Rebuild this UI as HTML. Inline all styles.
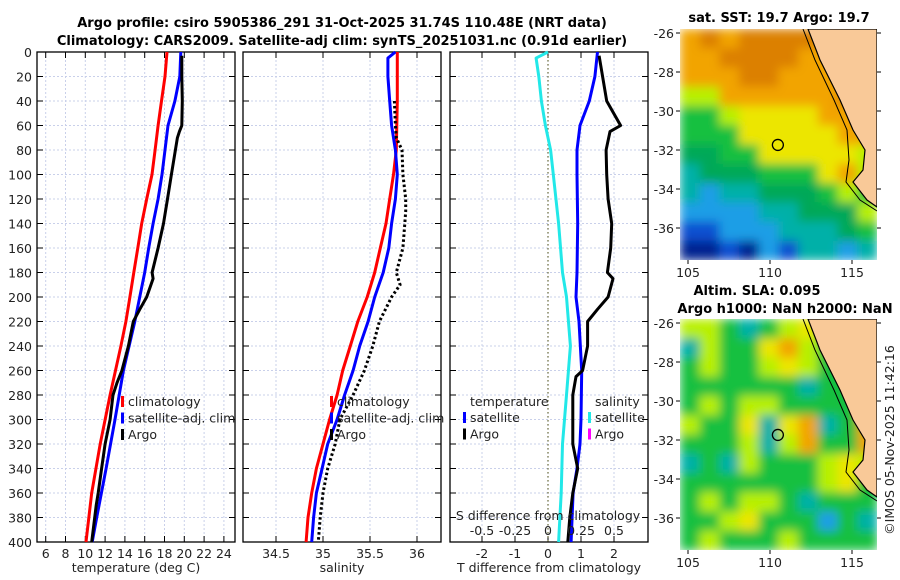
<!DOCTYPE html>
<html><head><meta charset="utf-8">
<style>
body{margin:0;background:#fff;}
svg{display:block;font-family:"DejaVu Sans","Liberation Sans",sans-serif;}
.t{font-size:12.5px;fill:#222;}
.b{font-weight:bold;font-size:13px;fill:#000;}
</style></head><body>
<svg id="s" width="900" height="580" viewBox="0 0 900 580" xmlns="http://www.w3.org/2000/svg">
<defs>
<filter id="blur" x="0" y="0" width="1" height="1"><feGaussianBlur stdDeviation="5" edgeMode="duplicate"/></filter>
<clipPath id="c1"><rect x="680" y="29" width="197" height="231"/></clipPath>
<clipPath id="c2"><rect x="680" y="319" width="197" height="231"/></clipPath>
</defs>
<text class="b" x="342" y="27" text-anchor="middle">Argo profile: csiro 5905386_291 31-Oct-2025 31.74S 110.48E (NRT data)</text>
<text class="b" x="342" y="45" text-anchor="middle">Climatology: CARS2009. Satellite-adj clim: synTS_20251031.nc (0.91d earlier)</text>
<text class="b" x="779" y="22" text-anchor="middle">sat. SST: 19.7 Argo: 19.7</text>
<text class="b" x="757" y="295" text-anchor="middle">Altim. SLA: 0.095</text>
<text class="b" x="785" y="313" text-anchor="middle">Argo h1000: NaN h2000: NaN</text>
<text class="t" x="0" y="0" transform="translate(894,440) rotate(-90)" text-anchor="middle">©IMOS 05-Nov-2025 11:42:16</text>
<g id="g"></g>
</svg>
<script>
// ---- data ----
const depthTicks=[0,20,40,60,80,100,120,140,160,180,200,220,240,260,280,300,320,340,360,380,400];
const tempTicks=[6,8,10,12,14,16,18,20,22,24];
const salTicks=[34.5,35,35.5,36];
const salTickLabels=["34.5","35","35.5","36"];
const dTTicks=[-2,-1,0,1,2];
const dSTicks=[-0.5,-0.25,0,0.25,0.5];
const dSTickLabels=["-0.5","-0.25","0","0.25","0.5"];

const climTdep=[0,20,40,60,80,100,120,140,160,180,200,220,240,280,320,360,400];
const climT=[18.25,18.05,17.7,17.35,17.05,16.74,16.2,15.7,15.3,14.9,14.5,14.1,13.6,12.5,11.5,10.65,10.07];
const satTdep=[0,20,40,60,80,100,120,140,160,180,220,260,300,340,380,400];
const satT=[19.65,19.55,19.05,18.35,18.05,17.75,17.35,16.85,16.4,16.0,15.0,13.85,13.0,12.1,11.15,10.7];
const argoTdep=[3,20,40,60,65,70,80,100,120,140,160,180,185,200,210,220,240,260,270,280,300,320,340,360,370,400];
const argoT=[19.75,19.75,19.8,19.75,19.5,19.3,19.1,18.7,18.3,17.9,17.35,16.75,16.85,16.2,15.5,14.85,14.35,13.7,13.2,12.8,12.5,12.0,11.65,11.3,11.1,10.65];

const climSdep=[0,40,80,100,120,140,160,180,200,220,240,260,280,300,320,340,360,380,400];
const climS=[35.79,35.79,35.78,35.75,35.71,35.67,35.61,35.55,35.47,35.37,35.29,35.21,35.15,35.07,35.0,34.93,34.88,34.84,34.82];
const satSdep=[0,5,20,40,60,80,100,120,140,160,180,200,220,240,260,280,300,320,340,360,380,400];
const satS=[35.77,35.69,35.69,35.71,35.73,35.77,35.79,35.77,35.73,35.7,35.64,35.55,35.48,35.39,35.32,35.23,35.15,35.05,34.99,34.93,34.9,34.88];
const argoSdep=[40,60,70,80,100,120,130,140,160,180,190,200,220,240,260,280,300,320,340,360,380,400];
const argoS=[35.76,35.77,35.78,35.84,35.85,35.88,35.88,35.87,35.85,35.78,35.82,35.73,35.6,35.53,35.44,35.32,35.18,35.13,35.05,35.0,34.97,34.95];

const dSatTdep=[0,20,40,60,80,100,140,180,200,220,260,300,320,340,360,400];
const dSatT=[1.5,1.42,1.25,0.97,0.88,0.88,0.9,0.88,0.85,0.94,1.02,1.0,0.97,0.88,0.76,0.7];
const dArgoTdep=[3,40,60,65,80,100,120,140,160,180,185,200,210,220,240,260,265,280,300,320,340,360,380,400];
const dArgoT=[1.55,1.78,2.2,1.88,1.76,1.78,1.82,1.93,1.9,1.8,1.97,1.82,1.5,1.2,1.2,1.05,0.85,0.75,0.75,0.75,0.9,0.75,0.66,0.6];
const dSatSdep=[0,5,20,40,60,80,100,140,180,200,240,280,320,360,400];
const dSatS=[0,-0.09,-0.07,-0.05,-0.02,0.02,0.04,0.08,0.11,0.14,0.17,0.14,0.11,0.1,0.08];

const sstGrid=["oOoOOOOoOO","ooOOOOooOO","oooOOoooOO","yyooooooOo","GGyYYYYooo","GGGYYYYYoo","ggGGYYYYYy","TgggGGGYoy","TCTTgggGyG","CCCCTTgggy","BBCCCTTTgG","NNBNCBTTCT"];
const slaGrid=["yyGTGyYGGy","TyGGYoyGGy","GyGGyYyGGy","GGGGGGTGGy","GyGyyGGGGo","yGGYTYoTGo","GGGyTyoGGo","TGTyGGGyYy","GGGGGGGyYG","GyGyyGTGGG","GGyYGGGCGT","GyGGGyGGGG"];
const mapLon=[105,110,115];
const mapLat=[-26,-28,-30,-32,-34,-36];
const argoLon=110.48, argoLat=-31.74;

// ---- drawing ----
const NS="http://www.w3.org/2000/svg";
const G=document.getElementById('g');
function mk(tag,attrs,parent){const e=document.createElementNS(NS,tag);for(const k in attrs)e.setAttribute(k,attrs[k]);(parent||G).appendChild(e);return e;}
const Y0=52,Y1=542;
const yD=d=>Y0+(Y1-Y0)*d/400;
const xT=t=>45.7+(t-6)*9.9;
const xS=s=>323+(s-35)*94;
const xdT=v=>548+v*33;
const xdS=v=>548+v*132;

function panel(name,x0,x1,ticks,labels,xf,showY,xlabel){
  const g=mk('g',{});
  
  
  ticks.forEach(t=>{const l=mk('line',{x1:xf(t),x2:xf(t),y1:Y0,y2:Y1,stroke:'#c9d0ea','stroke-dasharray':'2,2','stroke-width':1},g);});
  depthTicks.forEach(d=>{const l=mk('line',{x1:x0,x2:x1,y1:yD(d),y2:yD(d),stroke:'#c9d0ea','stroke-dasharray':'2,2','stroke-width':1},g);
    mk('line',{x1:x0,x2:x0+6,y1:yD(d),y2:yD(d),stroke:'#000'},g);mk('line',{x1:x1-6,x2:x1,y1:yD(d),y2:yD(d),stroke:'#000'},g);
    if(showY){const tx=mk('text',{x:x0-5,y:yD(d)+5,'text-anchor':'end',class:'t'},g);tx.textContent=d;}});
  ticks.forEach((t,i)=>{mk('line',{x1:xf(t),x2:xf(t),y1:Y1,y2:Y1-6,stroke:'#000'},g);mk('line',{x1:xf(t),x2:xf(t),y1:Y0,y2:Y0+6,stroke:'#000'},g);
    const tx=mk('text',{x:xf(t),y:Y1+16,'text-anchor':'middle',class:'t'},g);tx.textContent=labels[i];});
  const r=mk('rect',{x:x0,y:Y0,width:x1-x0,height:Y1-Y0,fill:'none',stroke:'#000','stroke-width':1.3},g);
  
  const xl=mk('text',{x:(x0+x1)/2,y:572,'text-anchor':'middle',class:'t'},g);xl.textContent=xlabel;
  
  return g;
}
function line(name,deps,vals,xf,color,dash){
  const p=mk('polyline',{points:deps.map((d,i)=>xf(vals[i]).toFixed(1)+','+yD(d).toFixed(1)).join(' '),fill:'none',stroke:color,'stroke-width':3,'stroke-linejoin':'round'});
  if(dash)p.setAttribute('stroke-dasharray',dash);
  
  
}
function legend(name,x,y,items){
  items.forEach((it,i)=>{
    const yy=y+i*16.5;
    mk('rect',{x:x,y:yy-10,width:3,height:11,fill:it[1]});
    const tx=mk('text',{x:x+7,y:yy,class:'t'});tx.textContent=it[0];
    
    
  });
}

panel('temperature-panel',37,235,tempTicks,tempTicks.map(String),xT,true,'temperature (deg C)');
line('temp-climatology-line',climTdep,climT,xT,'#f00');
line('temp-satellite-line',satTdep,satT,xT,'#00f');
line('temp-argo-line',argoTdep,argoT,xT,'#000');
legend('temp-legend',121,406,[['climatology','#f00'],['satellite-adj. clim','#00f'],['Argo','#000']]);

panel('salinity-panel',243,441,salTicks,salTickLabels,xS,false,'salinity');
line('sal-climatology-line',climSdep,climS,xS,'#f00');
line('sal-satellite-line',satSdep,satS,xS,'#00f');
line('sal-argo-line',argoSdep,argoS,xS,'#000','2.5,2.5');
legend('sal-legend',330,406,[['climatology','#f00'],['satellite-adj. clim','#00f'],['Argo','#000']]);

panel('difference-panel',450,648,dTTicks,dTTicks.map(String),xdT,false,'T difference from climatology');
mk('line',{x1:xdT(0),x2:xdT(0),y1:Y0,y2:Y1,stroke:'#6b6b3a','stroke-dasharray':'1.5,2.5','stroke-width':1.2});
line('dS-satellite-line',dSatSdep,dSatS,xdS,'#22e8e8');
line('dT-satellite-line',dSatTdep,dSatT,xdT,'#00f');
line('dT-argo-line',dArgoTdep,dArgoT,xdT,'#000');
(function(){const t=mk('text',{x:470,y:406,class:'t'});t.textContent='temperature';
const s=mk('text',{x:595,y:406,class:'t'});s.textContent='salinity';
const st=mk('text',{x:548,y:520,'text-anchor':'middle',class:'t'});st.textContent='S difference from climatology';
dSTicks.forEach((v,i)=>{const tx=mk('text',{x:xdS(v),y:535,'text-anchor':'middle',class:'t'});tx.textContent=dSTickLabels[i];});})();
legend('dT-legend',463,422,[['satellite','#00f'],['Argo','#000']]);
legend('dS-legend',588,422,[['satellite','#22e8e8'],['Argo','#f0f']]);

// maps
const colors={O:'#dc8000',o:'#f2a400',Y:'#ece600',y:'#b8f000',G:'#18c040',g:'#00a858',T:'#00b0a8',C:'#1c9ee6',B:'#0c50d0',N:'#002090'};
function map(name,grid,mx0,my0,mx1,my1,clip){
  const g=mk('g',{});
  
  
  const cw=(mx1-mx0)/10,ch=(my1-my0)/12;
  const cg=mk('g',{'clip-path':'url(#'+clip+')'},g);
  const fg=mk('g',{filter:'url(#blur)'},cg);
  grid.forEach((row,r)=>{for(let c=0;c<10;c++){mk('rect',{x:mx0+c*cw,y:my0+r*ch,width:cw+0.5,height:ch+0.5,fill:colors[row[c]]},fg);}});
  const dy=my0-29;
  const land=[[808,29],[877,29],[877,207],[867,200],[853,182],[863,170],[865,150],[853,130],[840,100],[820,60]];
  const lp=mk('polygon',{points:land.map(p=>p[0]+','+(p[1]+dy)).join(' '),fill:'#f9c998',stroke:'#000','stroke-width':1.2},cg);
  
  const shelf=[[803,29],[815,60],[834,100],[847,130],[849,160],[846,182],[860,200],[877,211]];
  mk('polyline',{points:shelf.map(p=>p[0]+','+(p[1]+dy)).join(' '),fill:'none',stroke:'#000','stroke-width':1},cg);
  const xl=lon=>688+(lon-105)*16.4, yl=lat=>my0+4+(-26-lat)*19.5;
  mapLon.forEach(l=>{mk('line',{x1:xl(l),x2:xl(l),y1:my1,y2:my1+4,stroke:'#000'},g);const t=mk('text',{x:xl(l),y:my1+17,'text-anchor':'middle',class:'t'},g);t.textContent=l;});
  mapLat.forEach(l=>{mk('line',{x1:mx0-4,x2:mx0,y1:yl(l),y2:yl(l),stroke:'#000'},g);mk('line',{x1:mx1,x2:mx1+4,y1:yl(l),y2:yl(l),stroke:'#000'},g);const t=mk('text',{x:mx0-6,y:yl(l)+5,'text-anchor':'end',class:'t'},g);t.textContent=l;});
  const c=mk('circle',{cx:xl(argoLon),cy:yl(argoLat),r:5.5,fill:'none',stroke:'#000','stroke-width':1.3},g);
  
}
map('sst-map',sstGrid,680,29,877,260,'c1');
map('sla-map',slaGrid,680,319,877,550,'c2');
</script>
</body></html>
